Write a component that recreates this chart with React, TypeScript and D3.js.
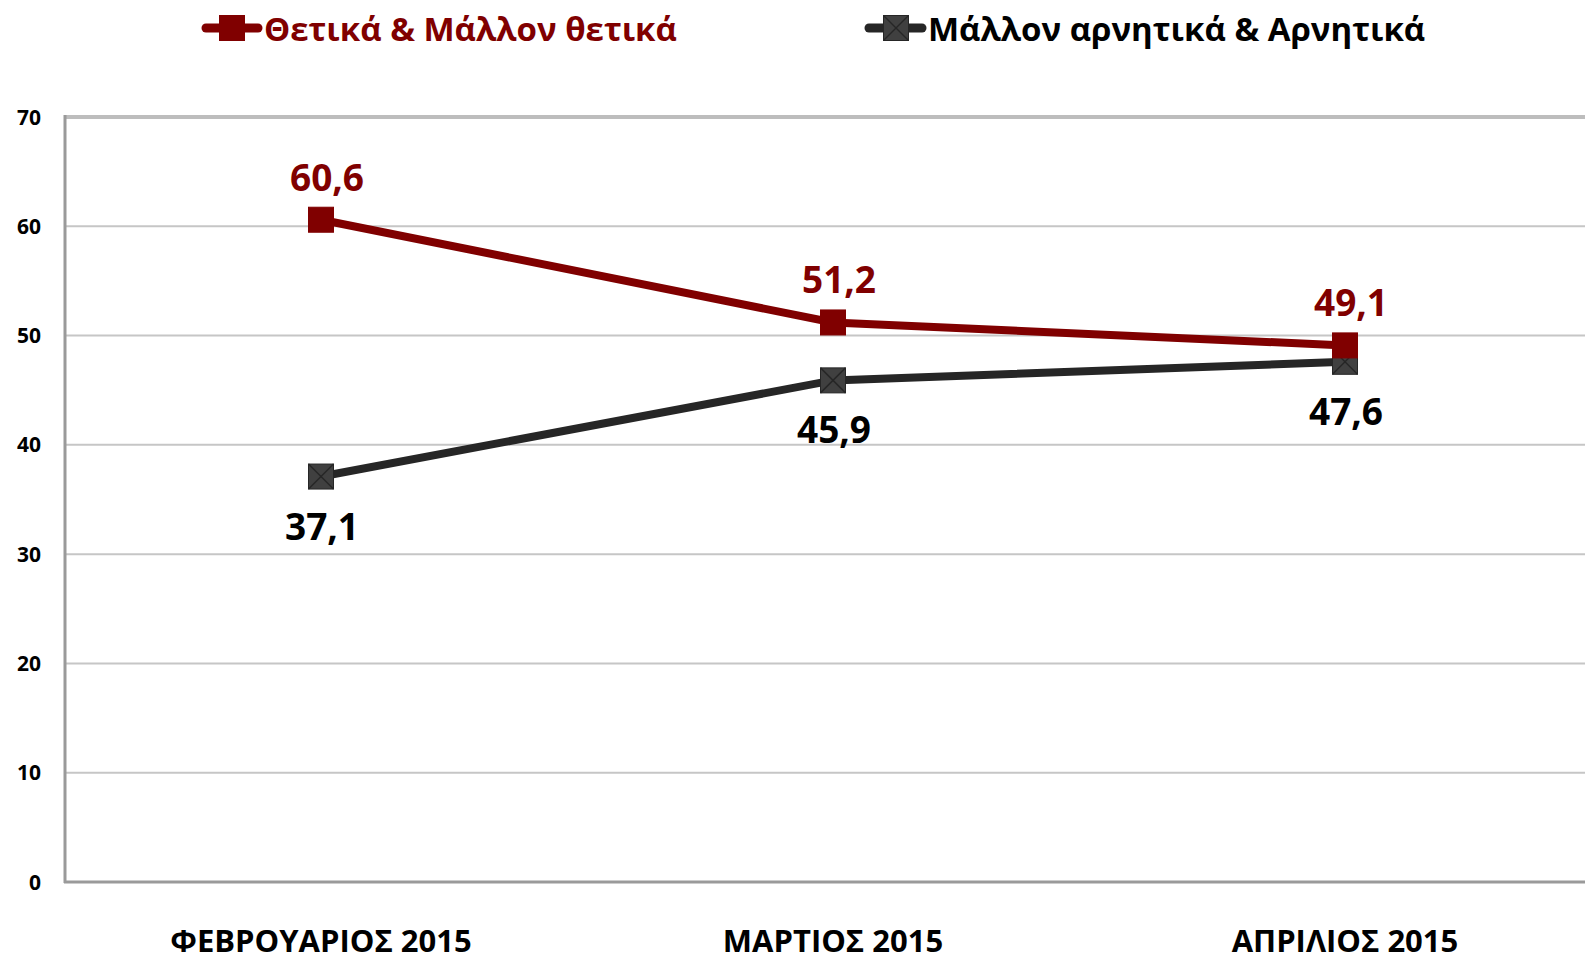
import React from "react";
import * as d3 from "d3";

const categories = ["ΦΕΒΡΟΥΑΡΙΟΣ 2015", "ΜΑΡΤΙΟΣ 2015", "ΑΠΡΙΛΙΟΣ 2015"];
const positiveValues = [60.6, 51.2, 49.1];
const negativeValues = [37.1, 45.9, 47.6];
const yTicks = [0, 10, 20, 30, 40, 50, 60, 70];
const seriesNames = ["Θετικά & Μάλλον θετικά", "Μάλλον αρνητικά & Αρνητικά"];

const W = 1585;
const H = 959;
const FONT = "'Open Sans', sans-serif";
const RED = "#800000";
const DARK = "#262626";
const MARKER_DARK = "#404040";

const fmt = (v: number) => v.toFixed(1).replace(".", ",");

export default function App() {
  const x = d3.scaleBand<string>().domain(categories).range([65, 1601]);
  const y = d3.scaleLinear().domain([0, 70]).range([882, 117]);
  const cx = (c: string) => (x(c) as number) + x.bandwidth() / 2;

  const line = d3
    .line<number>()
    .x((_, i) => cx(categories[i]))
    .y((d) => y(d));

  const ms = 25;

  const redMarker = (px: number, py: number, key: string) => (
    <rect key={key} x={px - ms / 2} y={py - ms / 2} width={ms} height={ms} fill={RED} stroke={RED} strokeWidth={1} />
  );
  const darkMarker = (px: number, py: number, key: string) => (
    <g key={key}>
      <rect x={px - ms / 2} y={py - ms / 2} width={ms} height={ms} fill={MARKER_DARK} stroke={DARK} strokeWidth={1} />
      <line x1={px - ms / 2} y1={py - ms / 2} x2={px + ms / 2} y2={py + ms / 2} stroke={DARK} strokeWidth={1.5} />
      <line x1={px + ms / 2} y1={py - ms / 2} x2={px - ms / 2} y2={py + ms / 2} stroke={DARK} strokeWidth={1.5} />
    </g>
  );

  return (
    <svg width={W} height={H} style={{ position: "absolute", left: 0, top: 0, background: "#fff" }}>
      {/* gridlines */}
      {yTicks.filter((t) => t > 0 && t < 70).map((t) => (
        <line key={"g" + t} x1={65} x2={W} y1={y(t)} y2={y(t)} stroke="#c6c6c6" strokeWidth={2} />
      ))}
      {/* top border */}
      <line x1={65} x2={W} y1={y(70)} y2={y(70)} stroke="#bdbdbd" strokeWidth={4} />
      {/* axes */}
      <line x1={65} x2={65} y1={y(70) - 2} y2={y(0) + 1} stroke="#9a9a9a" strokeWidth={3} />
      <line x1={64} x2={W} y1={y(0)} y2={y(0)} stroke="#9a9a9a" strokeWidth={3} />

      {/* y tick labels */}
      {yTicks.map((t) => (
        <text key={"t" + t} x={41} y={y(t)} dy="0.36em" textAnchor="end" fontFamily={FONT} fontWeight={700} fontSize={21} fill="#000">
          {t}
        </text>
      ))}

      {/* category labels */}
      {categories.map((c) => (
        <text key={c} x={cx(c)} y={952} textAnchor="middle" fontFamily={FONT} fontWeight={700} fontSize={31} fill="#000">
          {c}
        </text>
      ))}

      {/* lines */}
      <path d={line(negativeValues) || ""} fill="none" stroke={DARK} strokeWidth={8} />
      <path d={line(positiveValues) || ""} fill="none" stroke={RED} strokeWidth={8} />

      {/* markers */}
      {negativeValues.map((v, i) => darkMarker(cx(categories[i]), y(v), "n" + i))}
      {positiveValues.map((v, i) => redMarker(cx(categories[i]), y(v), "p" + i))}

      {/* data labels */}
      {positiveValues.map((v, i) => (
        <text key={"pl" + i} x={cx(categories[i]) + 6} y={y(v) - 29} textAnchor="middle" fontFamily={FONT} fontWeight={700} fontSize={37} fill={RED}>
          {fmt(v)}
        </text>
      ))}
      {negativeValues.map((v, i) => (
        <text key={"nl" + i} x={cx(categories[i]) + 1} y={y(v) + 63} textAnchor="middle" fontFamily={FONT} fontWeight={700} fontSize={37} fill="#000">
          {fmt(v)}
        </text>
      ))}

      {/* legend */}
      <g>
        <line x1={206} x2={258} y1={28} y2={28} stroke={RED} strokeWidth={9} strokeLinecap="round" />
        {redMarker(232, 28, "lg1")}
        <text x={264} y={41} fontFamily={FONT} fontWeight={700} fontSize={33} fill={RED}>
          {seriesNames[0]}
        </text>
      </g>
      <g>
        <line x1={869} x2={922} y1={28} y2={28} stroke={DARK} strokeWidth={9} strokeLinecap="round" />
        {darkMarker(896, 28, "lg2")}
        <text x={928} y={41} fontFamily={FONT} fontWeight={700} fontSize={33} fill="#000">
          {seriesNames[1]}
        </text>
      </g>
    </svg>
  );
}
